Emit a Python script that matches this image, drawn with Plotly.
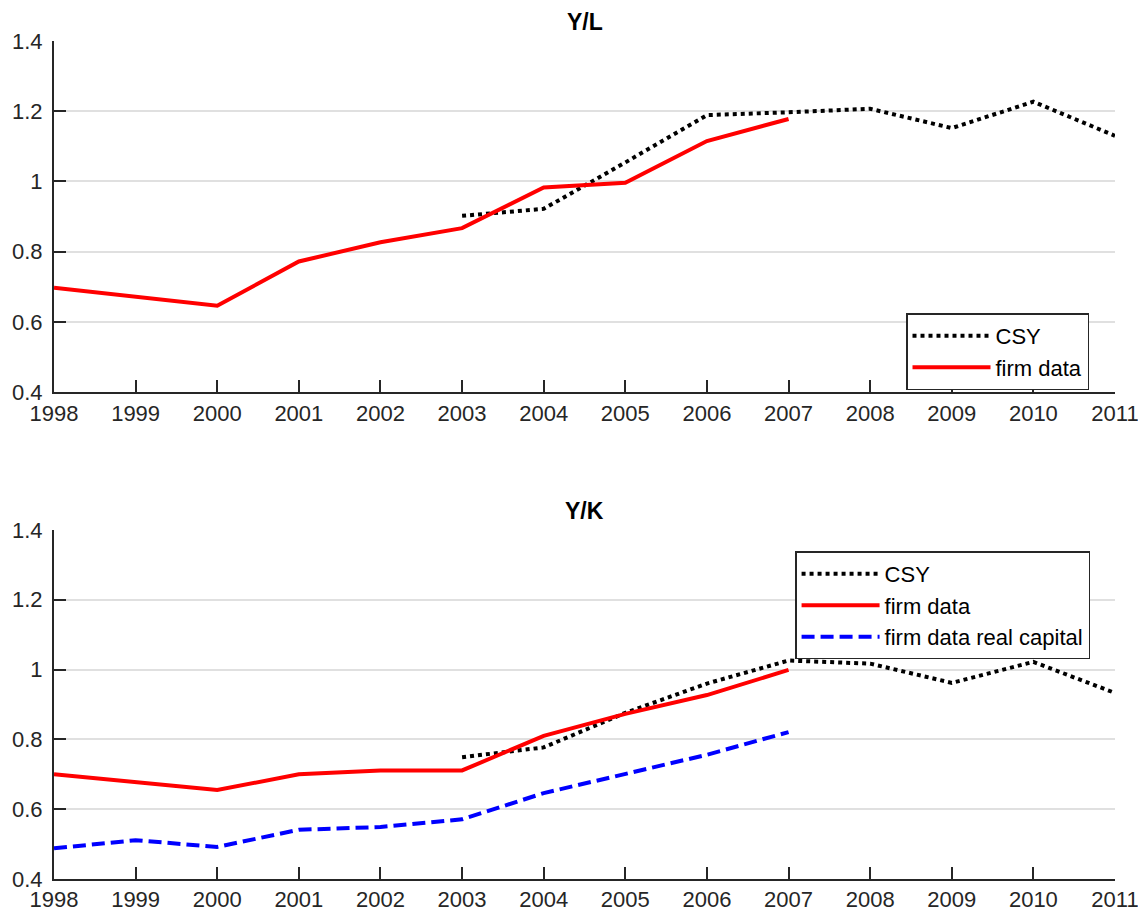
import plotly.graph_objects as go

years = list(range(1998, 2012))
years_firm = list(range(1998, 2008))
years_csy = list(range(2003, 2012))

# Y/L panel
yl_csy = [0.902, 0.922, 1.054, 1.189, 1.197, 1.207, 1.152, 1.227, 1.130]
yl_firm = [0.697, 0.672, 0.646, 0.772, 0.827, 0.867, 0.983, 0.996, 1.115, 1.178]

# Y/K panel
yk_csy = [0.749, 0.777, 0.876, 0.960, 1.026, 1.017, 0.962, 1.022, 0.933]
yk_firm = [0.700, 0.678, 0.655, 0.700, 0.711, 0.711, 0.810, 0.873, 0.927, 0.999]
yk_real = [0.488, 0.511, 0.492, 0.541, 0.549, 0.571, 0.646, 0.700, 0.756, 0.821]

ytick_vals = [0.4, 0.6, 0.8, 1.0, 1.2, 1.4]
ytick_text = ["0.4", "0.6", "0.8", "1", "1.2", "1.4"]

FONT = "Liberation Sans, Arial, sans-serif"
AX = "#262626"

fig = go.Figure()

fig.add_trace(go.Scatter(x=years_csy, y=yl_csy, mode="lines", name="CSY",
                         line=dict(color="black", width=4, dash="dot"),
                         xaxis="x", yaxis="y", legend="legend"))
fig.add_trace(go.Scatter(x=years_firm, y=yl_firm, mode="lines", name="firm data",
                         line=dict(color="#ff0000", width=4),
                         xaxis="x", yaxis="y", legend="legend"))

fig.add_trace(go.Scatter(x=years_csy, y=yk_csy, mode="lines", name="CSY",
                         line=dict(color="black", width=4, dash="dot"),
                         xaxis="x2", yaxis="y2", legend="legend2"))
fig.add_trace(go.Scatter(x=years_firm, y=yk_firm, mode="lines", name="firm data",
                         line=dict(color="#ff0000", width=4),
                         xaxis="x2", yaxis="y2", legend="legend2"))
fig.add_trace(go.Scatter(x=years_firm, y=yk_real, mode="lines", name="firm data real capital",
                         line=dict(color="#0000ff", width=4, dash="13px,6px"),
                         xaxis="x2", yaxis="y2", legend="legend2"))

xax = dict(range=[1998, 2011], tickvals=years, ticks="inside", ticklen=12,
           tickwidth=1.5, tickcolor=AX, showline=True, linecolor=AX, linewidth=2,
           showgrid=False, zeroline=False, automargin=False, ticklabelstandoff=0,
           tickfont=dict(size=22, color=AX))
yax = dict(range=[0.4, 1.4], tickvals=ytick_vals, ticktext=ytick_text,
           ticks="inside", ticklen=12, tickwidth=1.5, tickcolor=AX,
           showline=True, linecolor=AX, linewidth=2, showgrid=True,
           gridcolor="#e0e0e0", gridwidth=2, zeroline=False, automargin=False,
           ticklabelstandoff=5, tickfont=dict(size=22, color=AX))

leg = dict(bgcolor="white", bordercolor="#262626", borderwidth=1.5,
           font=dict(size=22, color="black", family=FONT), itemwidth=78,
           xanchor="right", yanchor="top", tracegroupgap=0)

# page body adds an 8px offset, so the figure is sized to fit the window
fig.update_layout(
    width=1138, height=906,
    margin=dict(l=46, r=31, t=33, b=35),
    paper_bgcolor="white", plot_bgcolor="white",
    font=dict(family=FONT, color=AX),
    xaxis=dict(xax, domain=[0, 1], anchor="y"),
    yaxis=dict(yax, domain=[0.581, 1], anchor="x"),
    xaxis2=dict(xax, domain=[0, 1], anchor="y2"),
    yaxis2=dict(yax, domain=[0, 0.4165], anchor="x2"),
    legend=dict(leg, x=0.9755, y=0.675),
    legend2=dict(leg, x=0.9765, y=0.391),
    showlegend=True,
    annotations=[
        dict(text="<b>Y/L</b>", x=0.5, y=1, xref="paper", yref="paper",
             xanchor="center", yanchor="bottom", yshift=4, showarrow=False,
             font=dict(size=23, color="black", family=FONT)),
        dict(text="<b>Y/K</b>", x=0.5, y=0.4165, xref="paper", yref="paper",
             xanchor="center", yanchor="bottom", yshift=4, showarrow=False,
             font=dict(size=23, color="black", family=FONT)),
    ],
)

fig.write_html("out.html")
